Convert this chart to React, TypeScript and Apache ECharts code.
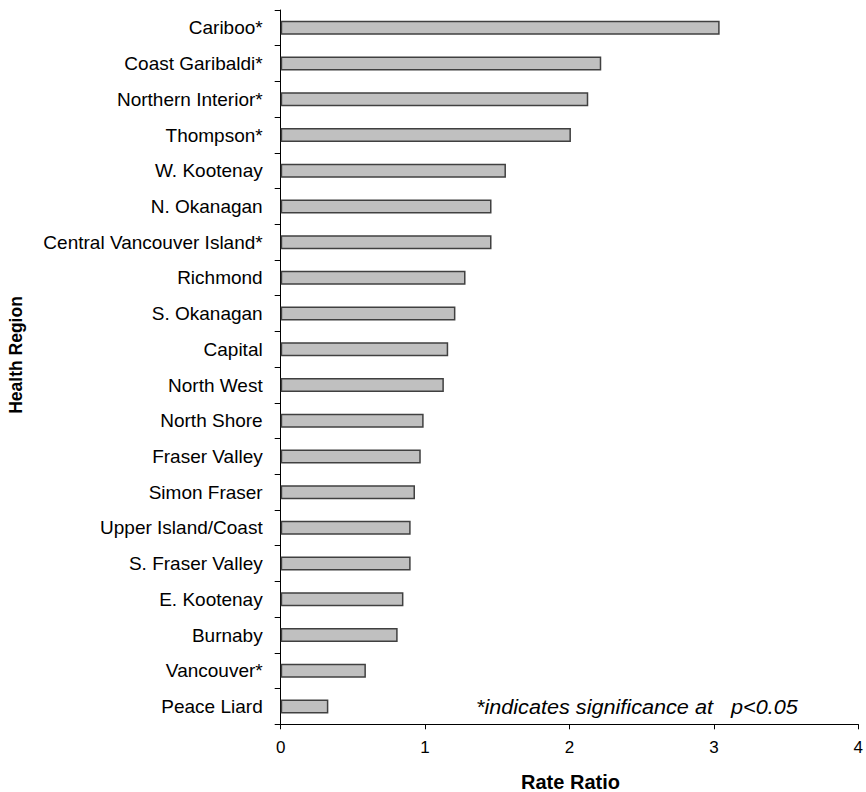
import React, { useEffect, useRef } from "react";
import * as echarts from "echarts";

// Health regions, top to bottom, with their rate ratios
const regions = [
  "Cariboo*",
  "Coast Garibaldi*",
  "Northern Interior*",
  "Thompson*",
  "W. Kootenay",
  "N. Okanagan",
  "Central Vancouver Island*",
  "Richmond",
  "S. Okanagan",
  "Capital",
  "North West",
  "North Shore",
  "Fraser Valley",
  "Simon Fraser",
  "Upper Island/Coast",
  "S. Fraser Valley",
  "E. Kootenay",
  "Burnaby",
  "Vancouver*",
  "Peace Liard",
];

const rateRatios = [
  3.04, 2.22, 2.13, 2.01, 1.56, 1.46, 1.46, 1.28, 1.21, 1.16, 1.13, 0.99,
  0.97, 0.93, 0.9, 0.9, 0.85, 0.81, 0.59, 0.33,
];

const xTicks = [0, 1, 2, 3, 4];

const FONT = "'Liberation Sans', Arial, sans-serif";

export default function App() {
  const ref = useRef<HTMLDivElement>(null);

  useEffect(() => {
    if (!ref.current) return;
    const chart = echarts.init(ref.current, null, { renderer: "svg" });
    chart.setOption({
      animation: false,
      backgroundColor: "#ffffff",
      grid: { left: 280.7, right: 2.7, top: 10, bottom: 67.7, containLabel: false },
      xAxis: {
        type: "value",
        min: xTicks[0],
        max: xTicks[xTicks.length - 1],
        interval: 1,
        axisLine: { show: true, lineStyle: { color: "#000", width: 1 } },
        axisTick: { show: true, length: 5, lineStyle: { color: "#000" } },
        splitLine: { show: false },
        axisLabel: { color: "#000", fontFamily: FONT, fontSize: 17, margin: 15 },
      },
      yAxis: {
        type: "category",
        data: regions,
        inverse: true,
        axisLine: { show: true, lineStyle: { color: "#000", width: 1 } },
        axisTick: { show: true, length: 6, interval: 0, lineStyle: { color: "#000" } },
        splitLine: { show: false },
        axisLabel: { color: "#000", fontFamily: FONT, fontSize: 19, margin: 18, interval: 0 },
      },
      series: [
        {
          type: "bar",
          data: rateRatios,
          barWidth: 14,
          itemStyle: { color: "#c0c0c0", borderColor: "#404040", borderWidth: 1.5 },
        },
      ],
      graphic: [
        {
          type: "text",
          x: 570.5,
          y: 782,
          style: {
            text: "Rate Ratio",
            fontFamily: FONT,
            fontSize: 20,
            fontWeight: "bold",
            fill: "#000",
            align: "center",
            verticalAlign: "middle",
          },
        },
        {
          type: "text",
          x: 16,
          y: 355,
          rotation: Math.PI / 2,
          style: {
            text: "Health Region",
            fontFamily: FONT,
            fontSize: 17.5,
            fontWeight: "bold",
            fill: "#000",
            align: "center",
            verticalAlign: "middle",
          },
        },
        {
          type: "text",
          x: 476,
          y: 707,
          scaleX: 1.11,
          style: {
            text: "*indicates significance at   p<0.05",
            fontFamily: FONT,
            fontSize: 19.5,
            fontStyle: "italic",
            fill: "#000",
            align: "left",
            verticalAlign: "middle",
          },
        },
      ],
    });
    return () => chart.dispose();
  }, []);

  return (
    <div
      ref={ref}
      style={{ position: "fixed", left: 0, top: 0, width: 866, height: 792 }}
    />
  );
}
